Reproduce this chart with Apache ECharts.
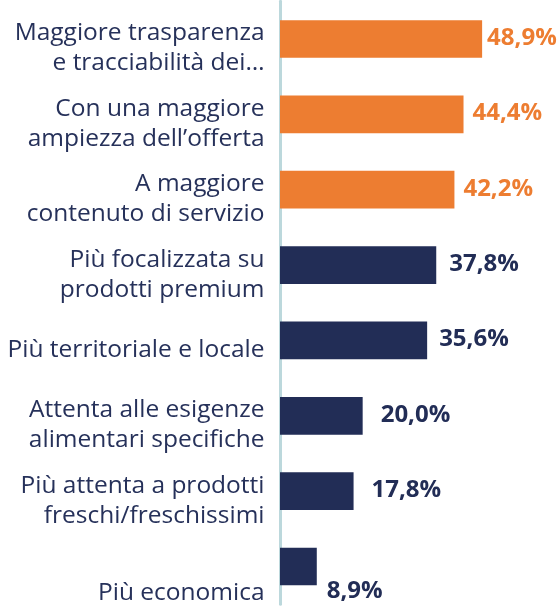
<!DOCTYPE html>
<html>
<head>
<meta charset="utf-8">
<script src="https://cdn.jsdelivr.net/npm/echarts@6/dist/echarts.min.js"></script>
<style>
  html, body { margin: 0; padding: 0; background: #fff; }
  #main { width: 560px; height: 608px; }
</style>
</head>
<body>
<div id="main"></div>
<script>
// categorie (dall'alto verso il basso)
var categories = [
    'Maggiore trasparenza\ne tracciabilità dei…',
    'Con una maggiore\nampiezza dell\u2019offerta',
    'A maggiore\ncontenuto di servizio',
    'Più focalizzata su\nprodotti premium',
    'Più territoriale e locale',
    'Attenta alle esigenze\nalimentari specifiche',
    'Più attenta a prodotti\nfreschi/freschissimi',
    'Più economica'
];
var values = [48.9, 44.4, 42.2, 37.8, 35.6, 20.0, 17.8, 8.9];
var valueLabels = ['48,9%', '44,4%', '42,2%', '37,8%', '35,6%', '20,0%', '17,8%', '8,9%'];
var highlighted = 3; // le prime 3 in arancione

var ORANGE = '#ed7d31';
var NAVY = '#222d56';

// aggiustamenti etichette (distanza dalla barra / spostamento verticale)
var labelGap = [5, 9, 9, 13, 12, 18, 18, 10];
var labelShift = [-1, -1, -1, -1, -1, -1, -1, 25];

var myChart = echarts.init(document.getElementById('main'));

var seriesData = values.map(function (v, i) {
    var c = i < highlighted ? ORANGE : NAVY;
    return {
        value: v,
        itemStyle: { color: c },
        label: {
            color: c,
            distance: labelGap[i],
            offset: [0, labelShift[i]]
        }
    };
});

var option = {
    animation: false,
    grid: {
        left: 280,
        right: 32,
        top: -1,
        height: 611,
        containLabel: false
    },
    xAxis: {
        type: 'value',
        min: 0,
        max: 60,
        show: false
    },
    yAxis: {
        type: 'category',
        inverse: true,
        data: categories,
        offset: 1.5,
        axisLine: {
            show: true,
            lineStyle: { color: '#bcd8dc', width: 3 }
        },
        axisTick: { show: false },
        splitLine: { show: false },
        axisLabel: {
            interval: 0,
            margin: 14,
            fontFamily: 'Open Sans',
            fontSize: 24.5,
            lineHeight: 30,
            color: '#26315a',
            align: 'right',
            formatter: function (value, idx) {
                // riga vuota in testa per abbassare un po' il testo
                var sp = idx === categories.length - 1 ? '{last| }' : '{sp| }';
                return sp + '\n' + value;
            },
            rich: {
                sp: { fontSize: 1, lineHeight: 19 },
                last: { fontSize: 1, lineHeight: 54 }
            }
        }
    },
    series: [
        {
            type: 'bar',
            data: seriesData,
            barCategoryGap: '50%',
            label: {
                show: true,
                position: 'right',
                fontFamily: 'Open Sans',
                fontWeight: 'bold',
                fontSize: 24,
                formatter: function (p) {
                    return valueLabels[p.dataIndex];
                }
            }
        }
    ]
};

myChart.setOption(option);
</script>
</body>
</html>
